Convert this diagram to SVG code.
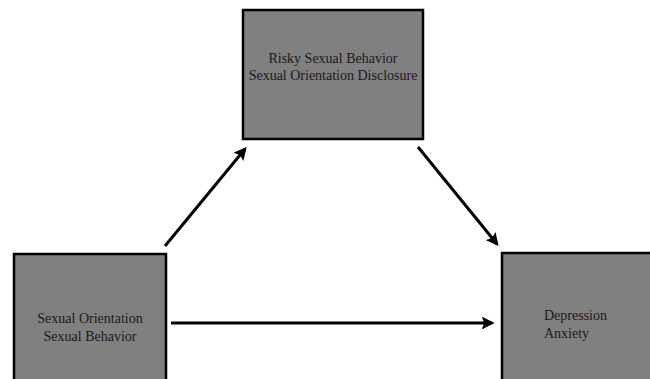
<svg xmlns="http://www.w3.org/2000/svg" width="650" height="379" viewBox="0 0 650 379">
<defs>
<style>
.box{fill:#808080;stroke:#000;stroke-width:2.5}
.t{font-family:"Liberation Serif","Times New Roman",serif;font-size:14px;fill:#1a1a1a}
.c{text-anchor:middle}
.e{stroke:#000;stroke-width:3;fill:none;marker-end:url(#ah)}
</style>
<marker id="ah" viewBox="0 0 10 10" refX="8" refY="5" markerWidth="4.3" markerHeight="4.3" orient="auto" markerUnits="strokeWidth">
<path d="M0,0 L10,5 L0,10 L2,5 z" fill="#000"/>
</marker>
</defs>
<rect width="650" height="379" fill="#fff"/>
<g id="connectors">
<line class="e" x1="165" y1="246" x2="245" y2="149"/>
<line class="e" x1="418" y1="147" x2="497" y2="244"/>
<line class="e" x1="171" y1="323" x2="492" y2="323"/>
</g>
<g id="mediators">
<rect class="box" x="243" y="10" width="180" height="129"/>
<text class="t c" x="333" y="63">Risky Sexual Behavior</text>
<text class="t c" x="333" y="80">Sexual Orientation Disclosure</text>
</g>
<g id="predictors">
<rect class="box" x="14" y="254" width="152" height="140"/>
<text class="t c" x="90" y="323">Sexual Orientation</text>
<text class="t c" x="90" y="341">Sexual Behavior</text>
</g>
<g id="outcomes">
<rect class="box" x="502" y="253" width="160" height="140"/>
<text class="t" x="544" y="320">Depression</text>
<text class="t" x="544" y="338">Anxiety</text>
</g>
</svg>
